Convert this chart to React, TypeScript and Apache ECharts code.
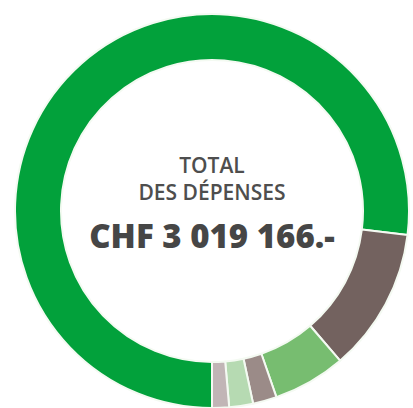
import React, { useEffect, useRef } from "react";
import * as echarts from "echarts";

const categories = ["Catégorie 1", "Catégorie 2", "Catégorie 3", "Catégorie 4", "Catégorie 5", "Catégorie 6"];
const values = [2323166, 356000, 180000, 59000, 59000, 42000];
const colors = ["#02a13b", "#73625f", "#77bd70", "#9b8b88", "#b6dab2", "#c1b5b6"];
const titleLines = ["TOTAL", "DES DÉPENSES"];
const totalLabel = "CHF 3 019 166.-";

export default function App() {
  const ref = useRef<HTMLDivElement>(null);
  useEffect(() => {
    document.body.style.margin = "0";
    const chart = echarts.init(ref.current!, null, { renderer: "svg" });
    chart.setOption({
      animation: false,
      series: [
        {
          type: "pie",
          center: [212, 211],
          radius: [151, 197],
          startAngle: 270,
          clockwise: true,
          silent: true,
          label: { show: false },
          labelLine: { show: false },
          itemStyle: { borderColor: "#f4faf2", borderWidth: 2 },
          data: categories.map((name, i) => ({
            name,
            value: values[i],
            itemStyle: { color: colors[i] },
          })),
        },
      ],
      graphic: [
        {
          type: "text",
          x: 212,
          y: 165,
          style: {
            text: titleLines[0],
            fill: "#4e4e4e",
            font: "600 21px 'Open Sans'",
            textAlign: "center",
            textVerticalAlign: "middle",
          },
        },
        {
          type: "text",
          x: 212,
          y: 192,
          style: {
            text: titleLines[1],
            fill: "#4e4e4e",
            font: "600 21px 'Open Sans'",
            textAlign: "center",
            textVerticalAlign: "middle",
          },
        },
        {
          type: "text",
          x: 212,
          y: 235,
          style: {
            text: totalLabel,
            fill: "#464646",
            font: "800 33px 'Open Sans'",
            textAlign: "center",
            textVerticalAlign: "middle",
          },
        },
      ],
    });
    return () => chart.dispose();
  }, []);
  return <div ref={ref} style={{ width: 413, height: 408 }} />;
}
